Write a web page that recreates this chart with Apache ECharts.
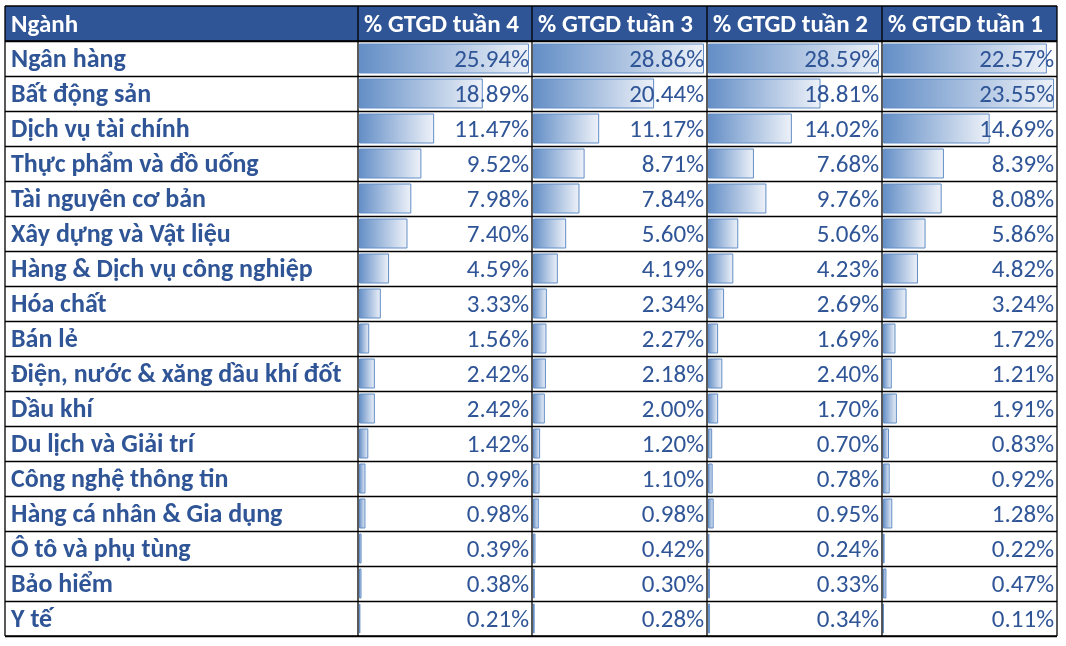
<!DOCTYPE html>
<html><head><meta charset="utf-8">
<script src="https://cdn.jsdelivr.net/npm/echarts@6/dist/echarts.min.js"></script>
<style>html,body{margin:0;padding:0;background:#fff}#c{width:1066px;height:646px}</style>
</head><body><div id="c"></div>
<script>
const headers = ["Ngành", "% GTGD tuần 4", "% GTGD tuần 3", "% GTGD tuần 2", "% GTGD tuần 1"];
const categories = ["Ngân hàng","Bất động sản","Dịch vụ tài chính","Thực phẩm và đồ uống","Tài nguyên cơ bản","Xây dựng và Vật liệu","Hàng & Dịch vụ công nghiệp","Hóa chất","Bán lẻ","Điện, nước & xăng dầu khí đốt","Dầu khí","Du lịch và Giải trí","Công nghệ thông tin","Hàng cá nhân & Gia dụng","Ô tô và phụ tùng","Bảo hiểm","Y tế"];
const week4 = [25.94,18.89,11.47,9.52,7.98,7.40,4.59,3.33,1.56,2.42,2.42,1.42,0.99,0.98,0.39,0.38,0.21];
const week3 = [28.86,20.44,11.17,8.71,7.84,5.60,4.19,2.34,2.27,2.18,2.00,1.20,1.10,0.98,0.42,0.30,0.28];
const week2 = [28.59,18.81,14.02,7.68,9.76,5.06,4.23,2.69,1.69,2.40,1.70,0.70,0.78,0.95,0.24,0.33,0.34];
const week1 = [22.57,23.55,14.69,8.39,8.08,5.86,4.82,3.24,1.72,1.21,1.91,0.83,0.92,1.28,0.22,0.47,0.11];

const weeks = [week4, week3, week2, week1];
const FONT = "Carlito, 'Noto Sans', sans-serif";
const BLUE = '#2F5597';
const FS = 25;
const colEdges = [5, 358, 532, 707, 882, 1057];
const top0 = 6, headH = 35, rowH = 35;
const bodyTop = top0 + headH, bodyH = rowH * categories.length, bottom = bodyTop + bodyH;

// grid 0: row lines; grid 1: category names (nudged down slightly like Excel's bottom alignment)
const grids = [
  {left: colEdges[0], top: bodyTop, width: colEdges[5] - colEdges[0], height: bodyH},
  {left: colEdges[0], top: bodyTop + 2, width: colEdges[1] - colEdges[0], height: bodyH}
];
const xAxes = [{gridIndex: 0, type: 'value', show: false}, {gridIndex: 1, type: 'value', show: false}];
const yAxes = [
  {gridIndex: 0, type: 'category', inverse: true, data: categories,
    axisLine: {show: false}, axisTick: {show: false}, axisLabel: {show: false},
    splitLine: {show: true, lineStyle: {color: '#000', width: 1.3}}},
  {gridIndex: 1, type: 'category', inverse: true, data: categories,
    axisLine: {show: false}, axisTick: {show: false}, splitLine: {show: false},
    axisLabel: {inside: true, margin: 6, fontFamily: FONT, fontSize: FS + 1, fontWeight: 'bold', color: BLUE}}
];
const series = [];

weeks.forEach((w, i) => {
  const g = i + 2;
  const mx = Math.max(...w);
  grids.push({left: colEdges[i + 1] + 1, top: bodyTop, width: colEdges[i + 2] - colEdges[i + 1] - 4, height: bodyH});
  xAxes.push({gridIndex: g, type: 'value', min: 0, max: mx, show: false});
  yAxes.push({gridIndex: g, type: 'category', inverse: true, data: categories, show: false});
  series.push({
    type: 'bar', xAxisIndex: g, yAxisIndex: g, data: w, barWidth: 30, barGap: '-100%',
    itemStyle: {
      color: new echarts.graphic.LinearGradient(0, 0, 1, 0, [{offset: 0, color: '#638EC6'}, {offset: 1, color: '#EEF2F9'}]),
      borderColor: '#638EC6', borderWidth: 1
    },
    silent: true
  });
  series.push({
    type: 'bar', xAxisIndex: g, yAxisIndex: g, data: w.map(() => mx), barWidth: 30, barGap: '-100%',
    itemStyle: {color: 'rgba(0,0,0,0)'}, silent: true, z: 5,
    label: {show: true, position: 'insideRight', distance: 0, offset: [0, 2], fontFamily: FONT, fontSize: FS, color: BLUE,
      formatter: p => w[p.dataIndex].toFixed(2) + '%'}
  });
});

const graphics = [];
graphics.push({type: 'rect', shape: {x: colEdges[0], y: top0, width: colEdges[5] - colEdges[0], height: headH}, style: {fill: BLUE}, z: 0});
headers.forEach((h, i) => {
  graphics.push({type: 'text', x: colEdges[i] + 6, y: top0 + headH / 2 + 2, z: 10,
    style: {text: h, fill: '#fff', font: 'bold ' + FS + 'px ' + FONT, verticalAlign: 'middle', align: 'left'}});
});
colEdges.forEach(x => {
  graphics.push({type: 'line', shape: {x1: x, y1: top0, x2: x, y2: bottom}, style: {stroke: '#000', lineWidth: 1.3}, z: 20});
});
graphics.push({type: 'line', shape: {x1: colEdges[0], y1: top0, x2: colEdges[5], y2: top0}, style: {stroke: '#000', lineWidth: 1.3}, z: 20});
graphics.push({type: 'line', shape: {x1: colEdges[0], y1: bodyTop, x2: colEdges[5], y2: bodyTop}, style: {stroke: '#000', lineWidth: 1.3}, z: 20});
graphics.push({type: 'line', shape: {x1: colEdges[0], y1: bottom, x2: colEdges[5], y2: bottom}, style: {stroke: '#000', lineWidth: 1.3}, z: 20});

const chart = echarts.init(document.getElementById('c'), null, {renderer: 'canvas'});
chart.setOption({animation: false, grid: grids, xAxis: xAxes, yAxis: yAxes, series, graphic: graphics});
</script></body></html>
